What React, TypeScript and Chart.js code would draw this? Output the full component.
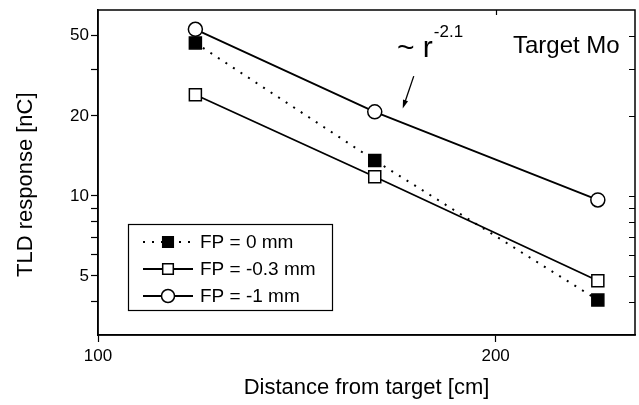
import React, { useEffect, useRef } from "react";
import { Chart, registerables } from "chart.js";

Chart.register(...registerables);

// ---- data ----
const DISTANCE_CM = [118.5, 162, 239];
const FP_0_MM = [37.6, 13.6, 4.06];
const FP_MINUS_03_MM = [24.0, 11.8, 4.8];
const FP_MINUS_1_MM = [42.3, 20.7, 9.66];
const SERIES_LABELS = ["FP = 0 mm", "FP = -0.3 mm", "FP = -1 mm"];

const X_TICK_VALUES = [100, 200];
const X_TICK_LABELS = ["100", "200"];
const Y_TICK_VALUES = [4, 5, 6, 7, 8, 9, 10, 20, 30, 40];
const Y_TICK_LABELS = ["", "5", "", "", "", "", "10", "20", "", "50"];

const X_TITLE = "Distance from target [cm]";
const Y_TITLE = "TLD response [nC]";
const TARGET_TEXT = "Target Mo";
const POWER_BASE = "~ r";
const POWER_EXP = "-2.1";
// arrow in data coordinates (from -> to)
const ARROW_FROM = { x: 173.4, y: 28.2 };
const ARROW_TO = { x: 170.1, y: 21.3 };

const FONT = '"Liberation Sans", Arial, Helvetica, sans-serif';

const toPoints = (ys: number[]) => DISTANCE_CM.map((x, i) => ({ x, y: ys[i] }));

function drawMarker(ctx: CanvasRenderingContext2D, style: string, x: number, y: number, r: number, fill: string) {
  ctx.save();
  ctx.beginPath();
  if (style === "circle") {
    ctx.arc(x, y, r, 0, Math.PI * 2);
  } else {
    const s = r * Math.SQRT1_2;
    ctx.rect(x - s, y - s, 2 * s, 2 * s);
  }
  ctx.fillStyle = fill;
  ctx.fill();
  ctx.lineWidth = 1.5;
  ctx.strokeStyle = "#000";
  ctx.stroke();
  ctx.restore();
}

const decorPlugin = {
  id: "decor",
  afterDraw(chart: any) {
    const { ctx, chartArea: ca, scales } = chart;
    const xs = scales.x;
    const ys = scales.y;
    ctx.save();
    // frame
    ctx.strokeStyle = "#000";
    ctx.lineWidth = 1.5;
    ctx.strokeRect(ca.left, ca.top, ca.right - ca.left, ca.bottom - ca.top);
    // inward ticks on right
    ctx.lineWidth = 1.2;
    ctx.beginPath();
    Y_TICK_VALUES.forEach((v) => {
      const py = Math.round(ys.getPixelForValue(v)) + 0.5;
      ctx.moveTo(ca.right, py);
      ctx.lineTo(ca.right - 6, py);
    });
    // inward tick on top at 200
    const p200 = Math.round(xs.getPixelForValue(200)) + 0.5;
    ctx.moveTo(p200, ca.top);
    ctx.lineTo(p200, ca.top + 5);
    ctx.stroke();

    // annotation texts
    ctx.fillStyle = "#000";
    ctx.textBaseline = "alphabetic";
    ctx.textAlign = "left";
    ctx.font = `24px ${FONT}`;
    ctx.fillText(TARGET_TEXT, ca.right - 122, ca.top + 43);
    ctx.font = `30px ${FONT}`;
    ctx.fillText(POWER_BASE, ca.left + 299, ca.top + 47);
    const wBase = ctx.measureText(POWER_BASE).width;
    ctx.font = `17px ${FONT}`;
    ctx.fillText(POWER_EXP, ca.left + 299 + wBase + 1, ca.top + 27);

    // arrow
    const ax0 = xs.getPixelForValue(ARROW_FROM.x);
    const ay0 = ys.getPixelForValue(ARROW_FROM.y);
    const ax1 = xs.getPixelForValue(ARROW_TO.x);
    const ay1 = ys.getPixelForValue(ARROW_TO.y);
    const ang = Math.atan2(ay1 - ay0, ax1 - ax0);
    const hl = 9;
    ctx.lineWidth = 1.3;
    ctx.beginPath();
    ctx.moveTo(ax0, ay0);
    ctx.lineTo(ax1 - Math.cos(ang) * 4, ay1 - Math.sin(ang) * 4);
    ctx.stroke();
    ctx.beginPath();
    ctx.moveTo(ax1, ay1);
    ctx.lineTo(ax1 - hl * Math.cos(ang - 0.3), ay1 - hl * Math.sin(ang - 0.3));
    ctx.lineTo(ax1 - hl * Math.cos(ang + 0.3), ay1 - hl * Math.sin(ang + 0.3));
    ctx.closePath();
    ctx.fill();

    // legend box
    const bx = ca.left + 30;
    const by = ca.top + 214;
    const bw = 204;
    const bh = 86;
    ctx.fillStyle = "#fff";
    ctx.fillRect(bx, by, bw, bh);
    ctx.strokeStyle = "#000";
    ctx.lineWidth = 1.2;
    ctx.strokeRect(bx + 0.5, by + 0.5, bw, bh);
    chart.data.datasets.forEach((ds: any, i: number) => {
      const ry = by + 18 + i * 27;
      ctx.save();
      ctx.strokeStyle = "#000";
      ctx.lineWidth = ds.borderWidth;
      ctx.setLineDash(ds.borderDash || []);
      ctx.beginPath();
      ctx.moveTo(bx + 15, ry);
      ctx.lineTo(bx + 65, ry);
      ctx.stroke();
      ctx.restore();
      drawMarker(ctx, ds.pointStyle, bx + 40, ry, ds.pointStyle === "circle" ? 6.5 : 7.5, ds.pointBackgroundColor);
      ctx.fillStyle = "#000";
      ctx.font = `19px ${FONT}`;
      ctx.textBaseline = "middle";
      ctx.textAlign = "left";
      ctx.fillText(ds.label, bx + 72, ry + 1);
    });
    ctx.restore();
  },
};

export default function App() {
  const ref = useRef<HTMLCanvasElement | null>(null);
  useEffect(() => {
    if (!ref.current) return;
    Chart.defaults.font.family = FONT;
    const common = {
      borderColor: "#000",
      pointBorderColor: "#000",
      pointBorderWidth: 1.5,
      showLine: true,
      fill: false,
      tension: 0,
    };
    const chart = new Chart(ref.current, {
      type: "scatter",
      data: {
        datasets: [
          {
            ...common,
            label: SERIES_LABELS[0],
            data: toPoints(FP_0_MM),
            borderWidth: 2,
            borderDash: [2, 7],
            pointStyle: "rect",
            pointRadius: 8.5,
            pointBackgroundColor: "#000",
            backgroundColor: "#000",
          },
          {
            ...common,
            label: SERIES_LABELS[1],
            data: toPoints(FP_MINUS_03_MM),
            borderWidth: 1.8,
            pointStyle: "rect",
            pointRadius: 8.5,
            pointBackgroundColor: "#fff",
            backgroundColor: "#fff",
          },
          {
            ...common,
            label: SERIES_LABELS[2],
            data: toPoints(FP_MINUS_1_MM),
            borderWidth: 1.8,
            pointStyle: "circle",
            pointRadius: 7,
            pointBackgroundColor: "#fff",
            backgroundColor: "#fff",
          },
        ] as any,
      },
      options: {
        animation: false,
        responsive: true,
        maintainAspectRatio: false,
        layout: { autoPadding: false, padding: { top: 10, right: 4, left: 0, bottom: 0 } },
        plugins: { legend: { display: false }, tooltip: { enabled: false } },
        scales: {
          x: {
            type: "logarithmic",
            min: 100,
            max: 255,
            afterBuildTicks: (s: any) => {
              s.ticks = X_TICK_VALUES.map((v) => ({ value: v }));
            },
            afterFit: (s: any) => {
              s.height = 70;
              s.paddingLeft = 0;
              s.paddingRight = 0;
              s.paddingTop = 0;
              s.paddingBottom = 0;
            },
            ticks: {
              callback: (v: any) => X_TICK_LABELS[X_TICK_VALUES.indexOf(Number(v))] ?? "",
              color: "#000",
              font: { size: 17 },
              padding: 4,
              maxRotation: 0,
              autoSkip: false,
            },
            grid: { drawOnChartArea: false, drawTicks: true, tickLength: 7, tickColor: "#000", tickWidth: 1.2 },
            border: { display: true, color: "#000", width: 1.5 },
            title: { display: true, text: X_TITLE, color: "#000", font: { size: 22 }, padding: { top: 0, bottom: 4 } },
          },
          y: {
            type: "logarithmic",
            min: 3,
            max: 50,
            afterBuildTicks: (s: any) => {
              s.ticks = Y_TICK_VALUES.map((v) => ({ value: v }));
            },
            afterFit: (s: any) => {
              s.width = 98;
              s.paddingLeft = 0;
              s.paddingRight = 0;
              s.paddingTop = 0;
              s.paddingBottom = 0;
            },
            ticks: {
              callback: (v: any) => Y_TICK_LABELS[Y_TICK_VALUES.indexOf(Number(v))] ?? "",
              color: "#000",
              font: { size: 17 },
              padding: 2,
              autoSkip: false,
            },
            grid: { drawOnChartArea: false, drawTicks: true, tickLength: 7, tickColor: "#000", tickWidth: 1.2 },
            border: { display: true, color: "#000", width: 1.5 },
            title: { display: true, text: Y_TITLE + "    ", color: "#000", font: { size: 22 }, padding: { top: 13, bottom: 0 } },
          },
        },
      } as any,
      plugins: [decorPlugin],
    });
    return () => chart.destroy();
  }, []);
  return (
    <div style={{ position: "fixed", left: 0, top: 0, width: 639, height: 405, background: "#fff" }}>
      <canvas ref={ref} />
    </div>
  );
}
